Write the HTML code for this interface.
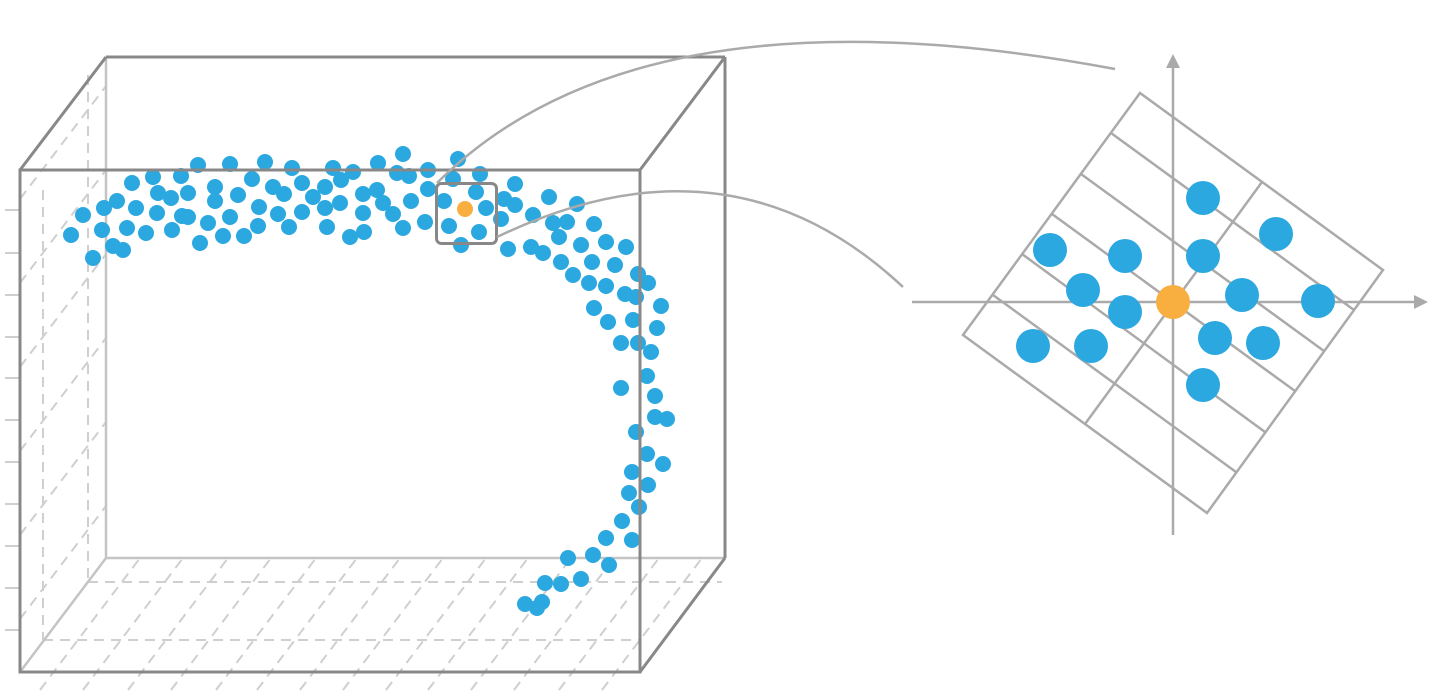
<!DOCTYPE html>
<html><head><meta charset="utf-8"><style>html,body{margin:0;padding:0;background:#fff}svg{display:block}</style></head>
<body>
<svg width="1445" height="700" viewBox="0 0 1445 700" xmlns="http://www.w3.org/2000/svg">
<g stroke="#cfcfcf" stroke-width="2" stroke-dasharray="10,7" fill="none">
  <line x1="88" y1="75" x2="88" y2="582"/>
  <line x1="43" y1="190" x2="43" y2="640"/>
  <line x1="88" y1="582" x2="722" y2="582"/>
  <line x1="43" y1="640" x2="640" y2="640"/>
  <line x1="20" y1="283" x2="106" y2="170"/>
  <line x1="20" y1="367" x2="106" y2="254"/>
  <line x1="20" y1="451" x2="106" y2="338"/>
  <line x1="20" y1="535" x2="106" y2="422"/>
  <line x1="20" y1="619" x2="106" y2="506"/>
  <line x1="20" y1="199" x2="106" y2="86"/>
  <line x1="40" y1="690" x2="140" y2="558"/>
  <line x1="83" y1="690" x2="183" y2="558"/>
  <line x1="128" y1="690" x2="228" y2="558"/>
  <line x1="171" y1="690" x2="271" y2="558"/>
  <line x1="216" y1="690" x2="316" y2="558"/>
  <line x1="257" y1="690" x2="357" y2="558"/>
  <line x1="300" y1="690" x2="400" y2="558"/>
  <line x1="343" y1="690" x2="443" y2="558"/>
  <line x1="386" y1="690" x2="486" y2="558"/>
  <line x1="428" y1="690" x2="528" y2="558"/>
  <line x1="471" y1="690" x2="571" y2="558"/>
  <line x1="514" y1="690" x2="614" y2="558"/>
  <line x1="559" y1="690" x2="659" y2="558"/>
  <line x1="602" y1="690" x2="702" y2="558"/>
</g>
<g stroke="#cfcfcf" stroke-width="2">
  <line x1="5" y1="210" x2="20" y2="210"/><line x1="5" y1="253" x2="20" y2="253"/><line x1="5" y1="295" x2="20" y2="295"/><line x1="5" y1="337" x2="20" y2="337"/><line x1="5" y1="378" x2="20" y2="378"/><line x1="5" y1="420" x2="20" y2="420"/><line x1="5" y1="462" x2="20" y2="462"/><line x1="5" y1="504" x2="20" y2="504"/><line x1="5" y1="546" x2="20" y2="546"/><line x1="5" y1="588" x2="20" y2="588"/><line x1="5" y1="630" x2="20" y2="630"/>
</g>
<g stroke="#c4c4c4" stroke-width="2.5" fill="none">
  <line x1="106" y1="57" x2="106" y2="558"/>
  <line x1="106" y1="558" x2="725" y2="558"/>
  <line x1="20" y1="672" x2="106" y2="558"/>
</g>
<g stroke="#888" stroke-width="3" fill="none">
  <line x1="106" y1="57" x2="725" y2="57"/>
  <line x1="725" y1="57" x2="725" y2="558"/>
  <line x1="20" y1="170" x2="106" y2="57"/>
  <line x1="640" y1="170" x2="725" y2="57"/>
  <line x1="640" y1="672" x2="725" y2="558"/>
</g>
<g fill="#2ca8e0">
<circle cx="71" cy="235" r="8"/><circle cx="83" cy="215" r="8"/><circle cx="93" cy="258" r="8"/><circle cx="102" cy="230" r="8"/><circle cx="104" cy="208" r="8"/><circle cx="113" cy="246" r="8"/><circle cx="123" cy="250" r="8"/><circle cx="117" cy="201" r="8"/><circle cx="132" cy="183" r="8"/><circle cx="136" cy="208" r="8"/><circle cx="127" cy="228" r="8"/><circle cx="146" cy="233" r="8"/><circle cx="153" cy="177" r="8"/><circle cx="157" cy="213" r="8"/><circle cx="158" cy="193" r="8"/><circle cx="171" cy="198" r="8"/><circle cx="172" cy="230" r="8"/><circle cx="181" cy="176" r="8"/><circle cx="182" cy="216" r="8"/><circle cx="188" cy="193" r="8"/><circle cx="188" cy="217" r="8"/><circle cx="198" cy="165" r="8"/><circle cx="200" cy="243" r="8"/><circle cx="208" cy="223" r="8"/><circle cx="215" cy="187" r="8"/><circle cx="215" cy="201" r="8"/><circle cx="223" cy="236" r="8"/><circle cx="230" cy="217" r="8"/><circle cx="230" cy="164" r="8"/><circle cx="238" cy="195" r="8"/><circle cx="244" cy="236" r="8"/><circle cx="252" cy="179" r="8"/><circle cx="259" cy="207" r="8"/><circle cx="258" cy="226" r="8"/><circle cx="265" cy="162" r="8"/><circle cx="273" cy="187" r="8"/><circle cx="278" cy="214" r="8"/><circle cx="284" cy="194" r="8"/><circle cx="289" cy="227" r="8"/><circle cx="292" cy="168" r="8"/><circle cx="302" cy="183" r="8"/><circle cx="302" cy="212" r="8"/><circle cx="313" cy="197" r="8"/><circle cx="325" cy="187" r="8"/><circle cx="325" cy="208" r="8"/><circle cx="327" cy="227" r="8"/><circle cx="333" cy="168" r="8"/><circle cx="341" cy="180" r="8"/><circle cx="340" cy="203" r="8"/><circle cx="350" cy="237" r="8"/><circle cx="353" cy="172" r="8"/><circle cx="363" cy="194" r="8"/><circle cx="363" cy="213" r="8"/><circle cx="364" cy="232" r="8"/><circle cx="377" cy="190" r="8"/><circle cx="378" cy="163" r="8"/><circle cx="383" cy="203" r="8"/><circle cx="393" cy="214" r="8"/><circle cx="397" cy="173" r="8"/><circle cx="403" cy="154" r="8"/><circle cx="403" cy="228" r="8"/><circle cx="409" cy="176" r="8"/><circle cx="411" cy="201" r="8"/><circle cx="425" cy="222" r="8"/><circle cx="428" cy="170" r="8"/><circle cx="428" cy="189" r="8"/><circle cx="444" cy="201" r="8"/><circle cx="449" cy="226" r="8"/><circle cx="453" cy="179" r="8"/><circle cx="458" cy="159" r="8"/><circle cx="461" cy="245" r="8"/>
<circle cx="480" cy="174" r="8"/><circle cx="476" cy="192" r="8"/><circle cx="486" cy="208" r="8"/><circle cx="479" cy="232" r="8"/><circle cx="515" cy="184" r="8"/><circle cx="504" cy="199" r="8"/><circle cx="515" cy="205" r="8"/><circle cx="501" cy="219" r="8"/><circle cx="549" cy="197" r="8"/><circle cx="577" cy="204" r="8"/><circle cx="533" cy="215" r="8"/><circle cx="553" cy="223" r="8"/><circle cx="567" cy="222" r="8"/><circle cx="594" cy="224" r="8"/><circle cx="508" cy="249" r="8"/><circle cx="531" cy="247" r="8"/><circle cx="543" cy="253" r="8"/><circle cx="559" cy="237" r="8"/><circle cx="581" cy="245" r="8"/><circle cx="606" cy="242" r="8"/><circle cx="626" cy="247" r="8"/><circle cx="561" cy="262" r="8"/><circle cx="592" cy="262" r="8"/><circle cx="615" cy="265" r="8"/><circle cx="573" cy="275" r="8"/><circle cx="589" cy="283" r="8"/><circle cx="606" cy="286" r="8"/><circle cx="638" cy="274" r="8"/><circle cx="648" cy="283" r="8"/><circle cx="625" cy="294" r="8"/><circle cx="636" cy="297" r="8"/><circle cx="661" cy="306" r="8"/><circle cx="594" cy="308" r="8"/><circle cx="608" cy="322" r="8"/><circle cx="633" cy="320" r="8"/><circle cx="657" cy="328" r="8"/>
<circle cx="621" cy="343" r="8"/><circle cx="638" cy="343" r="8"/><circle cx="651" cy="352" r="8"/><circle cx="647" cy="376" r="8"/><circle cx="621" cy="388" r="8"/><circle cx="655" cy="396" r="8"/><circle cx="655" cy="417" r="8"/><circle cx="667" cy="419" r="8"/><circle cx="636" cy="432" r="8"/><circle cx="647" cy="454" r="8"/><circle cx="663" cy="464" r="8"/><circle cx="632" cy="472" r="8"/><circle cx="648" cy="485" r="8"/><circle cx="629" cy="493" r="8"/><circle cx="639" cy="507" r="8"/><circle cx="622" cy="521" r="8"/><circle cx="606" cy="538" r="8"/><circle cx="632" cy="540" r="8"/>
<circle cx="593" cy="555" r="8"/><circle cx="568" cy="558" r="8"/><circle cx="609" cy="565" r="8"/><circle cx="581" cy="579" r="8"/><circle cx="545" cy="583" r="8"/><circle cx="561" cy="584" r="8"/><circle cx="525" cy="604" r="8"/><circle cx="542" cy="602" r="8"/><circle cx="537" cy="608" r="8"/>
</g>
<circle cx="465" cy="209" r="8" fill="#f9ae40"/>
<g stroke="#888" stroke-width="3" fill="none">
  <rect x="20" y="170" width="620" height="502"/>
  <rect x="436.5" y="183.5" width="60" height="60" rx="5"/>
</g>
<g stroke="#aaa" stroke-width="2.5" fill="none">
  <path d="M437,183 Q 640,-20 1115,69"/>
  <path d="M497,237 Q 730,125 903,287"/>
</g>
<g stroke="#aaa" stroke-width="2.5" fill="none">
  <line x1="912" y1="302" x2="1420" y2="302"/>
  <line x1="1173" y1="535" x2="1173" y2="64"/>
  <polygon points="1140,93 1383,270 1207,513 963,335"/>
  <line x1="1111" y1="133" x2="1354" y2="310"/>
  <line x1="1081" y1="174" x2="1324" y2="351"/>
  <line x1="1052" y1="214" x2="1295" y2="391"/>
  <line x1="1022" y1="254" x2="1265" y2="432"/>
  <line x1="993" y1="295" x2="1236" y2="472"/>
  <line x1="1262" y1="182" x2="1085" y2="424"/>
</g>
<g fill="#aaa">
  <polygon points="1428,302 1414,295 1414,309"/>
  <polygon points="1173,54 1166,68 1180,68"/>
</g>
<g fill="#2ca8e0">
<circle cx="1203" cy="198" r="17"/><circle cx="1276" cy="234" r="17"/><circle cx="1050" cy="250" r="17"/><circle cx="1125" cy="256" r="17"/><circle cx="1203" cy="256" r="17"/><circle cx="1083" cy="290" r="17"/><circle cx="1242" cy="295" r="17"/><circle cx="1318" cy="301" r="17"/><circle cx="1125" cy="312" r="17"/><circle cx="1215" cy="338" r="17"/><circle cx="1263" cy="343" r="17"/><circle cx="1033" cy="346" r="17"/><circle cx="1091" cy="346" r="17"/><circle cx="1203" cy="385" r="17"/>
</g>
<circle cx="1173" cy="302" r="17" fill="#f9ae40"/>
</svg>
</body></html>
